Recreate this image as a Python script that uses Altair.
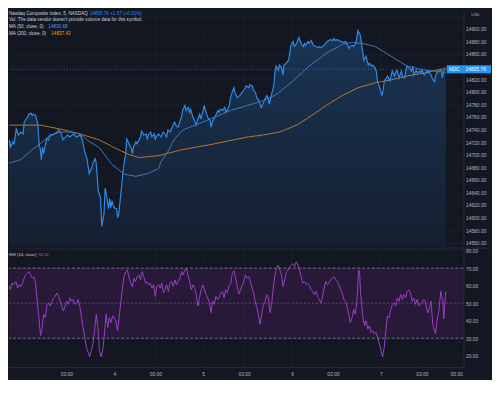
import altair as alt
import pandas as pd

# ---- data (time = 5-minute bars relative to 00:00 of day 4) ----
PRICE = [
    (-96, 14751.6), (-93, 14704.7), (-92, 14723.4), (-91, 14712.5), (-89, 14720.3), (-88, 14717.2),
    (-86, 14740.6), (-85, 14735.9), (-84, 14731.3), (-82, 14735.9), (-80, 14732.8), (-79, 14751.6),
    (-78, 14754.7), (-76, 14759.4), (-75, 14764.1), (-73, 14765.6), (-72, 14762.5), (-71, 14764.1),
    (-69, 14762.5), (-67, 14746.9), (-66, 14717.2), (-65, 14709.4), (-64, 14692.2), (-63, 14712.5),
    (-62, 14701.6), (-60, 14720.3), (-59, 14725.0), (-58, 14723.4), (-56, 14731.3), (-54, 14731.3),
    (-50, 14735.9), (-49, 14739.1), (-47, 14735.9), (-45, 14723.4), (-41, 14731.3), (-39, 14728.1),
    (-36, 14732.8), (-33, 14728.1), (-30, 14731.3), (-28, 14723.4), (-26, 14704.7), (-24, 14693.8),
    (-22, 14670.3), (-20, 14678.1), (-19, 14684.4), (-17, 14693.8), (-16, 14689.1), (-14, 14642.2),
    (-12, 14631.3), (-11, 14585.9), (-9, 14606.3), (-8, 14646.9), (-7, 14637.5), (-5, 14614.1),
    (-4, 14629.7), (-3, 14615.6), (-2, 14626.6), (0, 14615.6), (2, 14614.1), (3, 14600.0),
    (4, 14606.3), (6, 14642.2), (8, 14678.1), (10, 14701.6), (11, 14725.0), (13, 14717.2),
    (15, 14709.4), (16, 14701.6), (17, 14712.5), (19, 14720.3), (20, 14717.2), (22, 14725.0),
    (23, 14728.1), (24, 14737.5), (26, 14731.3), (28, 14732.8), (29, 14725.0), (30, 14731.3),
    (32, 14735.9), (33, 14728.1), (35, 14732.8), (36, 14723.4), (37, 14729.7), (39, 14732.8),
    (41, 14728.1), (43, 14735.9), (45, 14731.3), (46, 14728.1), (47, 14739.1), (49, 14735.9),
    (50, 14740.6), (52, 14748.4), (53, 14751.6), (54, 14746.9), (56, 14743.8), (58, 14754.7),
    (59, 14759.4), (60, 14770.3), (62, 14778.1), (63, 14770.3), (65, 14775.0), (66, 14767.2),
    (67, 14771.9), (69, 14759.4), (71, 14751.6), (72, 14746.9), (73, 14754.7), (75, 14764.1),
    (76, 14756.3), (78, 14770.3), (79, 14778.1), (80, 14770.3), (82, 14759.4), (84, 14754.7),
    (85, 14743.8), (86, 14751.6), (88, 14759.4), (89, 14762.5), (91, 14770.3), (92, 14767.2),
    (93, 14771.9), (95, 14770.3), (97, 14775.0), (98, 14767.2), (99, 14770.3), (101, 14778.1),
    (102, 14790.6), (104, 14801.6), (105, 14806.3), (106, 14798.4), (108, 14790.6), (110, 14793.8),
    (111, 14795.3), (112, 14798.4), (114, 14803.1), (115, 14806.3), (116, 14809.4), (118, 14806.3),
    (119, 14810.9), (121, 14809.4), (122, 14803.1), (124, 14798.4), (125, 14790.6), (127, 14785.9),
    (128, 14779.7), (129, 14775.0), (131, 14782.8), (132, 14787.5), (134, 14793.8), (135, 14790.6),
    (136, 14779.7), (138, 14795.3), (140, 14809.4), (141, 14829.7), (142, 14840.6), (144, 14834.4),
    (145, 14842.2), (147, 14837.5), (148, 14826.6), (149, 14842.2), (151, 14845.3), (153, 14850.0),
    (154, 14860.9), (155, 14873.4), (157, 14879.7), (158, 14871.9), (160, 14876.6), (161, 14881.3),
    (162, 14885.9), (164, 14876.6), (166, 14871.9), (167, 14876.6), (168, 14873.4), (170, 14879.7),
    (171, 14876.6), (173, 14881.3), (174, 14876.6), (175, 14873.4), (177, 14871.9), (179, 14870.3),
    (180, 14871.9), (181, 14870.3), (183, 14871.9), (184, 14873.4), (186, 14878.1), (187, 14879.7),
    (188, 14881.3), (190, 14882.8), (192, 14881.3), (193, 14884.4), (194, 14881.3), (196, 14882.8),
    (197, 14881.3), (199, 14879.7), (201, 14878.1), (203, 14879.7), (205, 14873.4), (206, 14868.8),
    (207, 14871.9), (209, 14873.4), (210, 14872.0), (212, 14876.6), (213, 14887.5), (214, 14896.9),
    (216, 14889.1), (217, 14876.6), (218, 14864.1), (219, 14850.0), (221, 14856.3), (222, 14848.4),
    (223, 14842.2), (224, 14845.3), (226, 14840.6), (227, 14842.2), (229, 14837.5), (230, 14832.8),
    (231, 14817.2), (233, 14806.3), (235, 14793.8), (236, 14803.1), (237, 14817.2), (239, 14821.9),
    (240, 14825.0), (242, 14817.2), (243, 14825.0), (244, 14832.8), (246, 14825.0), (248, 14834.4),
    (249, 14829.7), (250, 14821.9), (252, 14832.8), (253, 14825.0), (255, 14821.9), (256, 14834.4),
    (257, 14840.6), (259, 14837.5), (261, 14832.8), (262, 14840.6), (263, 14826.6), (265, 14834.4),
    (266, 14829.7), (268, 14832.8), (269, 14829.7), (270, 14834.4), (272, 14826.6), (274, 14832.8),
    (275, 14829.7), (276, 14832.8), (278, 14826.6), (279, 14821.9), (281, 14815.6), (282, 14825.0),
    (283, 14829.7), (285, 14832.8), (287, 14834.4), (288, 14821.9), (289, 14832.8), (291, 14835.76),
]

MA50 = [
    (-96, 14684.4), (-82, 14692.2), (-71, 14709.4), (-65, 14717.2), (-56, 14731.3), (-47, 14735.9),
    (-39, 14735.9), (-30, 14732.8), (-24, 14723.4), (-13, 14710.9), (-2, 14684.4), (9, 14668.8),
    (19, 14665.6), (30, 14670.3), (39, 14678.1), (41, 14689.1), (47, 14704.7), (53, 14725.0),
    (60, 14739.1), (73, 14748.4), (88, 14759.4), (102, 14770.3), (117, 14778.1), (131, 14785.9),
    (142, 14795.3), (157, 14817.2), (171, 14840.6), (186, 14860.9), (200, 14875.0), (209, 14878.1),
    (218, 14876.6), (229, 14871.9), (243, 14856.3), (257, 14840.6), (272, 14834.4), (291, 14830.68),
]

MA200 = [
    (-96, 14746.9), (-65, 14746.9), (-47, 14740.6), (-30, 14732.8), (-13, 14723.4), (2, 14709.4),
    (13, 14700.0), (22, 14695.3), (30, 14696.9), (39, 14698.4), (59, 14707.8), (88, 14717.2),
    (117, 14728.1), (131, 14731.3), (145, 14735.9), (160, 14746.9), (171, 14759.4), (186, 14778.1),
    (200, 14793.8), (214, 14806.3), (229, 14814.1), (243, 14818.8), (257, 14825.0), (272, 14829.7),
    (291, 14837.43),
]

RSI = [
    (-95.0, 71.2), (-94.1, 56.7), (-92.9, 60.5), (-91.2, 57.7), (-89.8, 61.4), (-88.3, 60.5),
    (-86.3, 62.3), (-84.9, 58.6), (-83.5, 60.5), (-82.0, 59.5), (-80.6, 61.4), (-79.1, 64.2),
    (-77.7, 66.1), (-76.3, 67.0), (-74.8, 68.0), (-73.4, 66.1), (-71.9, 64.2), (-70.5, 65.1),
    (-69.1, 61.4), (-67.6, 51.1), (-66.2, 41.8), (-64.7, 31.5), (-63.3, 36.1), (-61.9, 43.7),
    (-60.4, 41.8), (-59.0, 49.3), (-57.6, 50.2), (-56.1, 48.3), (-54.7, 51.1), (-53.2, 53.0),
    (-51.8, 53.9), (-50.4, 55.8), (-48.9, 53.9), (-47.5, 51.1), (-46.0, 48.3), (-44.6, 45.5),
    (-43.2, 48.3), (-41.7, 51.1), (-40.3, 49.3), (-38.8, 53.0), (-37.4, 51.1), (-36.0, 52.1),
    (-34.5, 49.3), (-33.1, 50.2), (-31.7, 52.1), (-30.2, 48.3), (-28.8, 41.8), (-27.3, 36.1),
    (-25.9, 30.5), (-24.5, 24.9), (-23.0, 22.1), (-21.6, 19.3), (-20.1, 23.1), (-18.7, 26.8),
    (-17.3, 34.3), (-15.8, 43.7), (-14.4, 36.1), (-13.0, 23.1), (-11.5, 19.3), (-10.1, 23.1),
    (-8.6, 32.4), (-7.2, 43.7), (-5.7, 36.1), (-4.3, 41.8), (-2.9, 38.9), (-1.4, 42.7),
    (0.0, 41.8), (1.4, 39.9), (2.9, 34.3), (4.3, 41.8), (5.8, 51.1), (7.2, 58.6),
    (8.6, 65.1), (10.1, 68.0), (11.5, 68.9), (12.9, 65.1), (14.4, 61.4), (15.8, 59.5),
    (17.3, 64.2), (18.7, 62.3), (20.1, 65.1), (21.6, 66.1), (23.0, 63.3), (24.5, 68.0),
    (25.9, 65.1), (27.3, 61.4), (28.8, 62.3), (30.2, 60.5), (31.7, 61.4), (33.1, 58.6),
    (34.5, 60.5), (36.0, 53.9), (37.4, 59.5), (38.8, 60.5), (40.3, 58.6), (41.7, 61.4),
    (43.2, 55.8), (44.6, 57.7), (46.0, 60.5), (47.5, 56.7), (48.9, 61.4), (50.4, 62.3),
    (51.8, 59.5), (53.2, 63.3), (54.7, 60.5), (56.1, 62.3), (57.6, 64.2), (59.0, 68.0),
    (60.4, 66.1), (61.9, 68.9), (63.3, 69.8), (64.7, 66.1), (66.2, 62.3), (67.6, 57.7),
    (69.1, 60.5), (70.5, 58.6), (71.9, 54.9), (73.4, 48.3), (74.8, 53.0), (76.3, 57.7),
    (77.7, 60.5), (79.1, 57.7), (80.6, 54.9), (82.0, 53.0), (83.5, 50.2), (84.9, 44.6),
    (86.3, 51.1), (87.8, 49.3), (89.2, 53.9), (90.6, 52.1), (92.1, 53.0), (93.5, 55.8),
    (95.0, 56.7), (96.4, 53.0), (97.8, 57.7), (99.3, 55.8), (100.7, 60.0), (102.2, 61.0),
    (103.6, 67.0), (105.0, 68.5), (106.5, 64.5), (107.9, 59.5), (109.4, 55.3), (110.8, 57.6),
    (112.2, 60.0), (113.7, 62.3), (115.1, 66.1), (116.6, 64.2), (118.0, 65.1), (119.4, 62.3),
    (120.9, 58.6), (122.3, 55.8), (123.7, 51.1), (125.2, 47.4), (126.6, 42.7), (128.0, 38.0),
    (129.5, 44.6), (130.9, 49.3), (132.4, 51.1), (133.8, 54.9), (135.2, 53.0), (136.7, 44.6),
    (138.1, 49.3), (139.6, 58.6), (141.0, 66.1), (142.4, 69.8), (143.9, 71.7), (145.3, 68.9),
    (146.8, 66.1), (148.2, 59.5), (149.6, 63.3), (151.1, 68.0), (152.5, 68.9), (154.0, 70.8),
    (155.4, 71.7), (156.8, 72.6), (158.3, 70.8), (159.7, 73.6), (161.2, 71.7), (162.6, 68.9),
    (164.0, 65.1), (165.5, 61.4), (166.9, 62.3), (168.4, 60.5), (169.8, 61.4), (171.2, 60.5),
    (172.7, 57.7), (174.1, 56.7), (175.6, 54.9), (177.0, 56.7), (178.4, 53.9), (179.9, 52.1),
    (181.3, 50.2), (182.7, 53.0), (184.2, 58.6), (185.6, 62.3), (187.1, 60.5), (188.5, 61.4),
    (189.9, 63.3), (191.4, 64.2), (192.8, 65.1), (194.3, 63.3), (195.7, 62.3), (197.1, 60.5),
    (198.6, 57.7), (200.0, 55.8), (201.5, 52.1), (202.9, 51.1), (204.3, 48.3), (205.8, 43.7),
    (207.2, 38.9), (208.7, 41.8), (210.1, 46.5), (211.5, 43.7), (213.0, 51.1), (213.8, 60.5),
    (214.4, 68.9), (215.3, 68.0), (216.1, 56.7), (218.2, 41.8), (219.7, 37.1), (221.1, 39.9),
    (222.6, 35.2), (224.0, 37.1), (225.4, 33.3), (226.9, 34.3), (228.3, 32.4), (229.8, 33.3),
    (231.2, 30.5), (232.6, 26.8), (234.1, 23.1), (235.5, 19.3), (237.0, 24.9), (238.4, 34.3),
    (239.8, 42.7), (241.3, 41.8), (242.7, 46.5), (244.2, 49.3), (245.6, 50.2), (247.0, 48.3),
    (248.5, 53.0), (249.9, 51.1), (251.4, 54.9), (252.8, 52.1), (254.2, 54.9), (255.7, 53.0),
    (257.1, 56.7), (258.6, 57.7), (260.0, 55.8), (261.4, 51.1), (262.9, 53.0), (264.3, 49.3),
    (265.8, 52.1), (267.2, 48.3), (268.6, 49.3), (270.1, 50.2), (271.5, 52.1), (272.9, 51.1),
    (273.7, 48.3), (275.4, 44.4), (278.0, 51.1), (279.7, 37.1), (282.0, 32.6), (283.2, 39.9),
    (284.9, 45.5), (286.6, 56.7), (288.3, 51.1), (289.2, 41.0), (290.9, 56.51),
]

PRICE_TICKS = [14560, 14580, 14600, 14620, 14640, 14660, 14680, 14700, 14720, 14740,
               14760, 14780, 14800, 14820, 14840, 14860, 14880, 14900, 14920]
HIDDEN_PRICE_LABELS = [14840, 14920]   # covered by the last-price box / the USD tag
RSI_TICKS = [20, 30, 40, 50, 60, 70, 80]
RSI_BAND = (70, 30)
RSI_MID = 50
TIME_TICKS = [-42, 0, 36, 78, 114, 156, 192, 234, 270, 300]
TIME_LABELS = ["03:00", "4", "03:00", "5", "03:00", "6", "03:00", "7", "03:00", "05:30"]

LAST_PRICE = 14835.76
CHANGE_TEXT = "+1.57 (+0.01%)"
MA50_LAST = 14830.68
MA200_LAST = 14837.43
RSI_LAST = 56.51

TITLE = "Nasdaq Composite Index, 5, NASDAQ"
VOL_TEXT = "Vol: The data vendor doesn't provide volume data for this symbol."

# ---- layout / style ----
W, H1, H2 = 462, 238, 121
X_DOMAIN = [-92.4, 306.5]
P_DOMAIN = [14554.7, 14926.6]
R_DOMAIN = [13.5, 81.4]

BG = "#131722"
GRID = "#1b1f2b"
SEP = "#2a2e39"
TXT = "#b2b5be"
LEG = "#d1d4dc"
LINE = "#2f8be6"
MA50_C = "#4278b8"
MA200_C = "#b8792e"
RSI_C = "#9a40c6"
BAND_C = "#9c27b0"
DASH_C = "#787b86"
FONT = "Liberation Sans"
FS = 5
LFS = 4.7

price_df = pd.DataFrame(PRICE, columns=["t", "v"])
ma50_df = pd.DataFrame(MA50, columns=["t", "v"])
ma200_df = pd.DataFrame(MA200, columns=["t", "v"])
rsi_df = pd.DataFrame(RSI, columns=["t", "v"])
tick_df = pd.DataFrame({"t": TIME_TICKS})
one = pd.DataFrame({"a": [0]})

xs = alt.Scale(domain=X_DOMAIN, nice=False, zero=False)
ys = alt.Scale(domain=P_DOMAIN, nice=False, zero=False)
yr = alt.Scale(domain=R_DOMAIN, nice=False, zero=False)

X_top = alt.X("t:Q", scale=xs, axis=None)

label_expr = " : ".join(
    f"datum.value == {t} ? '{l}'" for t, l in zip(TIME_TICKS, TIME_LABELS)
) + " : ''"
x_axis = alt.Axis(values=TIME_TICKS, labelExpr=label_expr, grid=False, ticks=False,
                  domain=True, domainColor=SEP, labelColor=TXT, labelFontSize=FS,
                  labelFont=FONT, labelPadding=7, labelBaseline="middle",
                  labelFlush=False, labelOverlap=False, title=None)
X_bot = alt.X("t:Q", scale=xs, axis=x_axis)

hide_expr = " || ".join(f"datum.value == {v}" for v in HIDDEN_PRICE_LABELS)
p_axis = alt.Axis(orient="right", values=PRICE_TICKS, title=None,
                  labelExpr=f"({hide_expr}) ? '' : format(datum.value, '.2f')",
                  ticks=False, domain=True, domainColor=SEP, grid=True, gridColor=GRID,
                  labelColor=TXT, labelFontSize=FS, labelFont=FONT, labelPadding=2,
                  labelOverlap=False)
r_axis = alt.Axis(orient="right", values=RSI_TICKS, format=".2f", title=None,
                  ticks=False, domain=True, domainColor=SEP, grid=True, gridColor=GRID,
                  labelColor=TXT, labelFontSize=FS, labelFont=FONT, labelPadding=2,
                  labelOverlap=False)
Yp = alt.Y("v:Q", scale=ys, axis=p_axis)
Yr = alt.Y("v:Q", scale=yr, axis=r_axis)

grad = alt.Gradient(gradient="linear",
                    stops=[alt.GradientStop(color="#1a3555", offset=0),
                           alt.GradientStop(color="#151f30", offset=1)],
                    x1=1, x2=1, y1=0, y2=1)

# ---- main pane ----
vgrid_top = alt.Chart(tick_df).mark_rule(color=GRID, strokeWidth=1).encode(x=X_top)
area = alt.Chart(price_df).mark_area(clip=True, color=grad).encode(
    x=X_top, y=Yp, y2=alt.datum(P_DOMAIN[0]))
ma200 = alt.Chart(ma200_df).mark_line(clip=True, color=MA200_C, strokeWidth=1).encode(x=X_top, y=Yp)
ma50 = alt.Chart(ma50_df).mark_line(clip=True, color=MA50_C, strokeWidth=1).encode(x=X_top, y=Yp)
pline = alt.Chart(price_df).mark_line(clip=True, color=LINE, strokeWidth=1.2).encode(x=X_top, y=Yp)
last_rule = alt.Chart(pd.DataFrame({"v": [LAST_PRICE]})).mark_rule(
    color=LINE, strokeDash=[1, 2], opacity=0.6, strokeWidth=1).encode(y=Yp)

half = 4 * (P_DOMAIN[1] - P_DOMAIN[0]) / H1
box = alt.Chart(pd.DataFrame({"v": [LAST_PRICE + half], "v2": [LAST_PRICE - half]})).mark_rect(
    color="#2196f3").encode(x=alt.value(445), x2=alt.value(490), y=Yp, y2="v2:Q")
last_df = pd.DataFrame({"v": [LAST_PRICE]})
box_t1 = alt.Chart(last_df).mark_text(align="left", baseline="middle", color="white",
                                      fontSize=FS, font=FONT).encode(
    x=alt.value(447), y=Yp, text=alt.value("NDC"))
box_t2 = alt.Chart(last_df).mark_text(align="left", baseline="middle", color="white",
                                      fontSize=FS, font=FONT).encode(
    x=alt.value(464), y=Yp, text=alt.value(f"{LAST_PRICE:.2f}"))

usd = alt.Chart(one).mark_text(align="left", baseline="middle", color=TXT, fontSize=4,
                               font=FONT).encode(x=alt.value(470), y=alt.value(3),
                                                 text=alt.value("USD"))


def txt(s, x, y, color, size=LFS):
    return alt.Chart(one).mark_text(align="left", baseline="middle", color=color,
                                    fontSize=size, font=FONT).encode(
        x=alt.value(x), y=alt.value(y), text=alt.value(s))


legend = [
    txt(TITLE, 0, 2.4, LEG),
    txt(f"{LAST_PRICE:.2f}  {CHANGE_TEXT}", 82, 2.4, "#2196f3"),
    txt(VOL_TEXT, 0, 8.5, LEG),
    txt("MA (50, close, 0)", 0, 15.5, LEG),
    txt(f"{MA50_LAST:.2f}", 40, 15.5, "#4d9af0"),
    txt("MA (200, close, 0)", 0, 22, LEG),
    txt(f"{MA200_LAST:.2f}", 43, 22, "#ff9800"),
]

top = alt.layer(vgrid_top, area, ma200, ma50, pline, last_rule, box, box_t1, box_t2,
                usd, *legend).properties(width=W, height=H1)

# ---- RSI pane ----
vgrid_bot = alt.Chart(tick_df).mark_rule(color=GRID, strokeWidth=1).encode(x=X_bot)
band = alt.Chart(pd.DataFrame({"v": [RSI_BAND[0]], "v2": [RSI_BAND[1]]})).mark_rect(
    color=BAND_C, opacity=0.16).encode(x=alt.value(0), x2=alt.value(W), y=Yr, y2="v2:Q")
band_lines = alt.Chart(pd.DataFrame({"v": list(RSI_BAND)})).mark_rule(
    color=DASH_C, strokeDash=[3, 2], strokeWidth=1, opacity=0.9).encode(y=Yr)
mid_line = alt.Chart(pd.DataFrame({"v": [RSI_MID]})).mark_rule(
    color=DASH_C, strokeDash=[2, 2], strokeWidth=1, opacity=0.5).encode(y=Yr)
rsi_line = alt.Chart(rsi_df).mark_line(clip=True, color=RSI_C, strokeWidth=1).encode(x=X_bot, y=Yr)
sep = alt.Chart(one).mark_rule(color=SEP, strokeWidth=1).encode(
    x=alt.value(0), x2=alt.value(490), y=alt.value(0))
rsi_leg = [
    txt("RSI (14, close)", 0, 7, LEG, 4.2),
    txt(f"{RSI_LAST:.2f}", 30, 7, "#b45ad8", 4.2),
]

bottom = alt.layer(vgrid_bot, band, band_lines, mid_line, rsi_line, sep,
                   *rsi_leg).properties(width=W, height=H2)

chart = alt.vconcat(top, bottom, spacing=0).properties(
    padding=0, background=BG).configure_view(stroke=None)

chart.save("out.html", embed_options={"renderer": "svg", "actions": False})
